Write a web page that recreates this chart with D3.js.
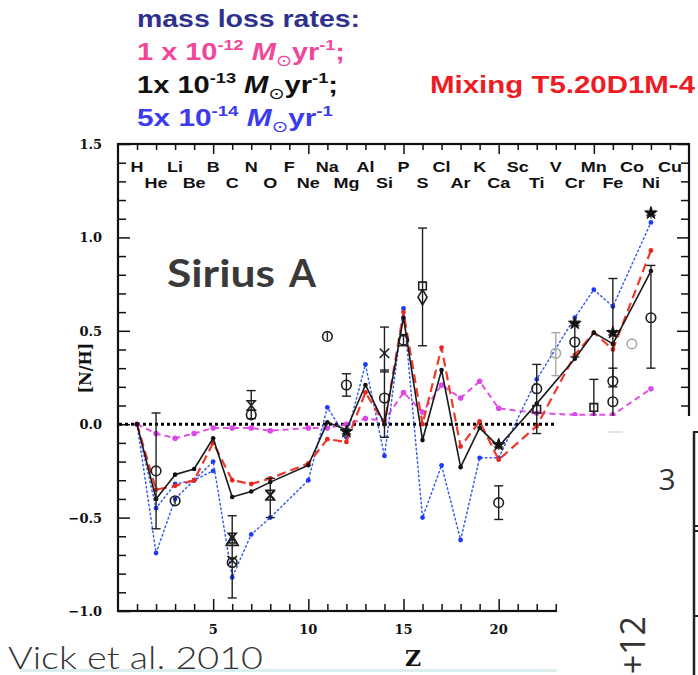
<!DOCTYPE html>
<html>
<head>
<meta charset="utf-8">
<script src="https://cdn.jsdelivr.net/npm/d3@7"></script>
<style>
  html, body { margin: 0; padding: 0; background: #fff; }
  svg { display: block; }
</style>
</head>
<body>
<svg id="chart" width="698" height="675"></svg>
<script>
// ---------- data ----------
// element symbols, Z = index + 1
const elementSymbols = ["H","He","Li","Be","B","C","N","O","F","Ne","Na","Mg","Al","Si","P",
  "S","Cl","Ar","K","Ca","Sc","Ti","V","Cr","Mn","Fe","Co","Ni","Cu"];

// atomic numbers at which the model abundances are given
const modelZ   = [1, 2, 3, 4, 5, 6, 7, 8, 10, 11, 12, 13, 14, 15, 16, 17, 18, 19, 20, 22, 24, 25, 26, 28];
// [N/H] from the models
const rate12   = [0, -0.05, -0.075, -0.05, -0.02, -0.02, -0.02, -0.035, -0.02, -0.02, 0.0, 0.03, 0.02, 0.17, 0.065, 0.21, 0.14, 0.23, 0.085, 0.06, 0.05, 0.05, 0.05, 0.19];
const rate13   = [0, -0.40, -0.27, -0.24, -0.075, -0.39, -0.36, -0.31, -0.22, 0.01, -0.03, 0.21, 0.0, 0.57, -0.085, 0.29, -0.23, -0.02, -0.12, 0.11, 0.35, 0.49, 0.43, 0.82];
const rate14   = [0, -0.69, -0.40, -0.30, -0.20, -0.82, -0.59, -0.50, -0.30, 0.09, -0.07, 0.32, -0.17, 0.62, -0.50, -0.22, -0.62, -0.18, -0.18, 0.24, 0.57, 0.72, 0.63, 1.08];
const mixing   = [0, -0.35, -0.33, -0.30, -0.10, -0.30, -0.32, -0.29, -0.21, -0.08, -0.095, 0.17, 0.0, 0.60, 0.0, 0.41, -0.12, 0.015, -0.19, -0.01, 0.37, 0.49, 0.40, 0.93];
// second set of 5e-14 model points for the lightest elements
const rate14AltZ = [1, 2, 3, 4, 5];
const rate14AltV = [0, -0.45, -0.32, -0.30, -0.25];

// observed abundances
const obsZ   = [2, 3, 6, 6, 6, 6, 7, 7, 8, 8, 11, 12, 12, 14, 14, 15, 16, 16, 20, 20, 22, 22, 23, 24, 24, 25, 26, 26, 26, 27, 28, 28];
const obsVal = [-0.25, -0.41, -0.61, -0.63, -0.74, -0.73, 0.10, 0.05, -0.38, -0.38, 0.47, 0.21, -0.04, 0.14, 0.38, 0.45, 0.74, 0.68, -0.11, -0.42, 0.19, 0.08, 0.38, 0.54, 0.44, 0.09, 0.49, 0.23, 0.12, 0.43, 1.13, 0.57];
const obsSym = ["circle","circle","hourglass","triangle","circle","cross","hourglass","circle","hourglass","cross","circle","circle","star","circle","cross","circle","square","diamond","star","circle","circle","square","circle","star","circle","square","star","circle","circle","circle","star","circle"];
const obsTone = ["k","k","k","k","k","k","k","k","k","k","k","k","k","k","k","k","k","k","k","k","k","k","g","k","k","k","k","k","k","g","k","k"];

// observational error bars
const errZ    = [2, 3, 6, 7, 8, 11, 12, 14, 14, 15, 16, 20, 22, 23, 24, 25, 26, 26, 28];
const errLo   = [-0.56, -0.43, -0.93, 0.03, -0.50, 0.45, 0.15, -0.07, 0.28, 0.42, 0.42, -0.51, -0.05, 0.26, 0.36, 0.04, 0.20, 0.03, 0.30];
const errHi   = [0.06, -0.39, -0.49, 0.18, -0.29, 0.49, 0.27, 0.29, 0.52, 0.48, 1.05, -0.33, 0.32, 0.49, 0.54, 0.24, 0.78, 0.30, 0.85];
const errCap  = [1, 0, 1, 1, 1, 0, 1, 1, 1, 1, 1, 1, 1, 1, 1, 1, 1, 1, 1];
const errTone = ["k","k","k","k","k","k","k","k","k","k","k","k","k","g","k","k","k","k","k"];

// axis ticks
const zMajor = [5, 10, 15, 20, 25];
const zLabels = ["5", "10", "15", "20", "25"];
const vMajor = [-1.0, -0.5, 0.0, 0.5, 1.0, 1.5];
const vLabels = ["\u22121.0", "\u22120.5", "0.0", "0.5", "1.0", "1.5"];

// legend text
const rateMantissa = ["1 x 10", "1x 10", "5x 10"];
const rateExponent = ["-12", "-13", "-14"];
const rateEnd = [";", ";", ""];
const rateColor = ["#f0479b", "#111111", "#3b3bef"];

// ---------- drawing ----------
const svg = d3.select("#chart");
const x = d3.scaleLinear().domain([0, 30]).range([118, 689]);
const y = d3.scaleLinear().domain([-1, 1.5]).range([611, 144]);

const serif = "'DejaVu Serif', 'Liberation Serif', serif";
const sans = "'Liberation Sans', Arial, Helvetica, sans-serif";

// legend block
svg.append("text")
  .attr("x", 137).attr("y", 27)
  .attr("font-family", sans).attr("font-weight", "bold").attr("font-size", 24)
  .attr("fill", "#2e3190")
  .attr("textLength", 223).attr("lengthAdjust", "spacingAndGlyphs")
  .text("mass loss rates:");

const rateBase = [60, 93, 126];
const rateWidth = [208, 201, 196];
rateMantissa.forEach((m, i) => {
  const g = svg.append("g");
  const t = g.append("text")
    .attr("x", 0).attr("y", 0)
    .attr("font-family", sans).attr("font-weight", "bold").attr("font-size", 24).attr("fill", rateColor[i]);
  t.append("tspan").text(m);
  t.append("tspan").attr("font-size", 15).attr("dy", -10).text(rateExponent[i]);
  t.append("tspan").attr("dy", 10).text("\u00a0");
  t.append("tspan").attr("font-style", "italic").text("M");
  t.append("tspan").attr("font-size", 16).attr("dy", 6).attr("font-weight", "normal")
    .attr("font-family", "'DejaVu Sans', sans-serif").text("\u2299");
  t.append("tspan").attr("dy", -6).text("yr");
  t.append("tspan").attr("font-size", 15).attr("dy", -10).text("-1");
  t.append("tspan").attr("dy", 10).text(rateEnd[i]);
  const w = t.node().getBBox().width;
  g.attr("transform", `translate(137,${rateBase[i]}) scale(${rateWidth[i] / w},1)`);
});

svg.append("text")
  .attr("x", 430).attr("y", 93)
  .attr("font-family", sans).attr("font-weight", "bold").attr("font-size", 23)
  .attr("fill", "#ee1c24")
  .attr("textLength", 265).attr("lengthAdjust", "spacingAndGlyphs")
  .text("Mixing T5.20D1M-4");

// axes (ticks pointing inward on all four sides)
function styleAxis(g) {
  g.select(".domain").remove();
  g.selectAll(".tick line").attr("stroke", "#111").attr("stroke-width", 1.5);
  g.selectAll(".tick text").remove();
}
const zAll = d3.range(1, 30);
const zMinor = zAll.filter(z => z % 5 !== 0);
const vAll = d3.range(-10, 16).map(i => i / 10);
const vMinor = vAll.filter(v => !vMajor.some(m => Math.abs(m - v) < 1e-6));

svg.append("g").attr("transform", `translate(0,${y(-1)})`)
  .call(d3.axisBottom(x).tickValues(zMinor).tickSize(-7).tickSizeOuter(0)).call(styleAxis);
svg.append("g").attr("transform", `translate(0,${y(-1)})`)
  .call(d3.axisBottom(x).tickValues(zMajor).tickSize(-12).tickSizeOuter(0)).call(styleAxis);
svg.append("g").attr("transform", `translate(0,${y(1.5)})`)
  .call(d3.axisTop(x).tickValues(zMinor).tickSize(-6).tickSizeOuter(0)).call(styleAxis);
svg.append("g").attr("transform", `translate(0,${y(1.5)})`)
  .call(d3.axisTop(x).tickValues(zMajor).tickSize(-10).tickSizeOuter(0)).call(styleAxis);
svg.append("g").attr("transform", `translate(${x(0)},0)`)
  .call(d3.axisLeft(y).tickValues(vMinor).tickSize(-8).tickSizeOuter(0)).call(styleAxis);
svg.append("g").attr("transform", `translate(${x(0)},0)`)
  .call(d3.axisLeft(y).tickValues(vMajor).tickSize(-12).tickSizeOuter(0)).call(styleAxis);
svg.append("g").attr("transform", `translate(${x(30)},0)`)
  .call(d3.axisRight(y).tickValues(vMinor).tickSize(-8).tickSizeOuter(0)).call(styleAxis);
svg.append("g").attr("transform", `translate(${x(30)},0)`)
  .call(d3.axisRight(y).tickValues(vMajor).tickSize(-12).tickSizeOuter(0)).call(styleAxis);

// frame
svg.append("rect")
  .attr("x", x(0)).attr("y", y(1.5))
  .attr("width", x(30) - x(0)).attr("height", y(-1) - y(1.5))
  .attr("fill", "none").attr("stroke", "#111").attr("stroke-width", 2.2);

// tick labels
svg.selectAll("text.ylab").data(vMajor).join("text")
  .attr("class", "ylab")
  .attr("x", 102).attr("y", d => y(d) + 5)
  .attr("text-anchor", "end")
  .attr("font-family", serif).attr("font-weight", "bold").attr("font-size", 13)
  .attr("fill", "#111")
  .text((d, i) => vLabels[i]);
svg.selectAll("text.xlab").data(zMajor).join("text")
  .attr("class", "xlab")
  .attr("x", d => x(d)).attr("y", 634)
  .attr("text-anchor", "middle")
  .attr("font-family", serif).attr("font-weight", "bold").attr("font-size", 13)
  .attr("fill", "#111")
  .text((d, i) => zLabels[i]);

// axis titles
svg.append("text")
  .attr("x", x(15.5)).attr("y", 666)
  .attr("text-anchor", "middle")
  .attr("font-family", serif).attr("font-weight", "bold").attr("font-size", 22)
  .attr("fill", "#111").text("Z");
svg.append("text")
  .attr("transform", `translate(91,${y(0.3)}) rotate(-90)`)
  .attr("text-anchor", "middle")
  .attr("font-family", serif).attr("font-weight", "bold").attr("font-size", 16)
  .attr("fill", "#111").text("[N/H]");

// element names along the top, odd Z on the upper row
svg.selectAll("text.elem").data(elementSymbols).join("text")
  .attr("class", "elem")
  .attr("transform", (d, i) => `translate(${x(i + 1)},${(i + 1) % 2 ? 172 : 188}) scale(1.2,1)`)
  .attr("text-anchor", "middle")
  .attr("font-family", sans).attr("font-weight", "bold").attr("font-size", 15)
  .attr("fill", "#111")
  .text(d => d);

// solar reference line
svg.append("line")
  .attr("x1", x(0) + 1).attr("x2", x(30))
  .attr("y1", y(0)).attr("y2", y(0))
  .attr("stroke", "#000").attr("stroke-width", 3).attr("stroke-dasharray", "3,3");

// model curves
const line = d3.line().x(d => x(d.z)).y(d => y(d.v));
function rows(zs, vs) { return zs.map((z, i) => ({ z, v: vs[i] })); }
const models = [
  { vals: rate12, color: "#e24fe6", width: 2, dash: "6,4", r: 2.8, dot: "#d94ae8" },
  { vals: rate14, color: "#3a5cf0", width: 1.5, dash: "1.5,3", r: 2.4, dot: "#1d3cf5" },
  { vals: mixing, color: "#ee3a2a", width: 2.2, dash: "9,5", r: 2.4, dot: "#e8261b" },
  { vals: rate13, color: "#1a1a1a", width: 1.6, dash: null, r: 2.3, dot: "#111" }
];
// extra 5e-14 branch drawn beneath the main curves
const alt = rows(rate14AltZ, rate14AltV);
svg.append("path").datum(alt).attr("d", line)
  .attr("fill", "none").attr("stroke", "#3a5cf0").attr("stroke-width", 1.5)
  .attr("stroke-dasharray", "1.5,3").attr("stroke-linecap", "round");
svg.selectAll("circle.alt").data(alt.slice(1)).join("circle")
  .attr("class", "alt").attr("cx", d => x(d.z)).attr("cy", d => y(d.v))
  .attr("r", 2.4).attr("fill", "#1d3cf5");

models.forEach(m => {
  const data = rows(modelZ, m.vals);
  const p = svg.append("path").datum(data).attr("d", line)
    .attr("fill", "none").attr("stroke", m.color).attr("stroke-width", m.width)
    .attr("stroke-linejoin", "round");
  if (m.dash) p.attr("stroke-dasharray", m.dash).attr("stroke-linecap", m.dash.startsWith("1.5") ? "round" : "butt");
  svg.append("g").selectAll("circle").data(data).join("circle")
    .attr("cx", d => x(d.z)).attr("cy", d => y(d.v))
    .attr("r", m.r).attr("fill", m.dot);
});

// observations: error bars then symbols
const toneColor = { k: "#1e1e1e", g: "#a8a8a8" };
errZ.forEach((z, i) => {
  const g = svg.append("g").attr("stroke", toneColor[errTone[i]]).attr("stroke-width", 1.4);
  g.append("line").attr("x1", x(z)).attr("x2", x(z)).attr("y1", y(errLo[i])).attr("y2", y(errHi[i]));
  if (errCap[i]) {
    [errLo[i], errHi[i]].forEach(v => {
      g.append("line").attr("x1", x(z) - 4.5).attr("x2", x(z) + 4.5).attr("y1", y(v)).attr("y2", y(v));
    });
  }
});

const hourglass = { draw(ctx, size) {
  const s = Math.sqrt(size) / 2;
  ctx.moveTo(-s, -s * 1.2); ctx.lineTo(s, -s * 1.2); ctx.lineTo(-s, s * 1.2);
  ctx.lineTo(s, s * 1.2); ctx.closePath();
} };
const symbolTypes = {
  circle: [d3.symbolCircle, 72],
  square: [d3.symbolSquare, 58],
  diamond: [d3.symbolDiamond, 70],
  triangle: [d3.symbolTriangle, 62],
  hourglass: [hourglass, 64],
  cross: [d3.symbolX || d3.symbolTimes || d3.symbolCross, 60],
  star: [d3.symbolStar, 50]
};
obsZ.forEach((z, i) => {
  const [type, size] = symbolTypes[obsSym[i]];
  const c = toneColor[obsTone[i]];
  const filled = obsSym[i] === "star";
  if (filled) {
    svg.append("path")
      .attr("transform", `translate(${x(z)},${y(obsVal[i])})`)
      .attr("d", d3.symbol(d3.symbolAsterisk || d3.symbolCross, 80)())
      .attr("fill", "none").attr("stroke", "#555").attr("stroke-width", 1.6);
  }
  svg.append("path")
    .attr("transform", `translate(${x(z)},${y(obsVal[i])})`)
    .attr("d", d3.symbol(type, size)())
    .attr("fill", filled ? "#111" : "none")
    .attr("stroke", c).attr("stroke-width", filled ? 1 : 1.6);
});

// panel titles
svg.append("text").attr("x", 167).attr("y", 287)
  .attr("font-family", "Lato, 'Open Sans', sans-serif").attr("font-weight", "bold").attr("font-size", 38)
  .attr("fill", "#3a3a3a").attr("textLength", 108).attr("lengthAdjust", "spacingAndGlyphs")
  .text("Sirius");
svg.append("text").attr("x", 289).attr("y", 287)
  .attr("font-family", "Lato, 'Open Sans', sans-serif").attr("font-weight", "bold").attr("font-size", 38)
  .attr("fill", "#3a3a3a").attr("textLength", 27).attr("lengthAdjust", "spacingAndGlyphs")
  .text("A");

// neighbouring panel that overlaps the lower right corner
svg.append("rect").attr("x", 557).attr("y", 416).attr("width", 141).attr("height", 259).attr("fill", "#fff");
svg.append("line").attr("x1", 608).attr("x2", 623).attr("y1", 432).attr("y2", 432)
  .attr("stroke", "#e2e2e2").attr("stroke-width", 2);
svg.append("line").attr("x1", 694).attr("x2", 694).attr("y1", 432).attr("y2", 675)
  .attr("stroke", "#222").attr("stroke-width", 2.5);
[432, 526, 531, 616].forEach(v => {
  svg.append("line").attr("x1", 693).attr("x2", 698).attr("y1", v).attr("y2", v)
    .attr("stroke", "#222").attr("stroke-width", 2);
});
svg.append("text").attr("x", 667).attr("y", 490).attr("text-anchor", "middle")
  .attr("font-family", "'Open Sans', sans-serif").attr("font-size", 30).attr("fill", "#333").text("3");
svg.append("text").attr("transform", "translate(645,616) rotate(-90)").attr("text-anchor", "end")
  .attr("font-family", "'Open Sans', sans-serif").attr("font-size", 34).attr("fill", "#333").text("+12");

// citation
svg.append("rect").attr("x", 20).attr("y", 669).attr("width", 537).attr("height", 3).attr("fill", "#dcefef");
svg.append("text").attr("x", 8).attr("y", 669)
  .attr("font-family", "Lato, 'Open Sans', sans-serif").attr("font-weight", 300).attr("font-size", 31)
  .attr("fill", "#333").attr("textLength", 255).attr("lengthAdjust", "spacingAndGlyphs")
  .text("Vick et al. 2010");
</script>
</body>
</html>
